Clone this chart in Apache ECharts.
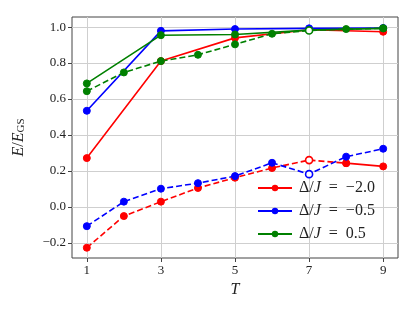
<!DOCTYPE html>
<html><head><meta charset="utf-8">
<script src="https://cdn.jsdelivr.net/npm/echarts@6/dist/echarts.min.js"></script>
<style>html,body{margin:0;padding:0;background:#fff}#c{width:415px;height:312px}</style>
</head><body><div id="c"></div>
<script>
const tOdd = [1, 3, 5, 7, 9];
const tAll = [1, 2, 3, 4, 5, 6, 7, 8, 9];
const tTail = [8, 9];
const xTicks = [1, 3, 5, 7, 9];
const yTicks = [-0.2, 0.0, 0.2, 0.4, 0.6, 0.8, 1.0];

const redSolid = [0.272, 0.811, 0.940, 0.985, 0.974];
const blueSolid = [0.535, 0.979, 0.989, 0.993, 0.995];
const greenSolid = [0.687, 0.955, 0.959, 0.983, 0.993];

const redDashed = [-0.226, -0.050, 0.030, 0.106, 0.163, 0.217, 0.261, 0.244];
const redTail = [0.244, 0.226];
const blueDashed = [-0.106, 0.030, 0.102, 0.133, 0.172, 0.246, 0.183, 0.280, 0.324];
const greenDashed = [0.644, 0.748, 0.811, 0.846, 0.904, 0.963, 0.981, 0.989, 0.993];

const labels = ['Δ/J = −2.0', 'Δ/J = −0.5', 'Δ/J = 0.5'];
const openT = 7;

const RED = '#ff0000', BLUE = '#0000ff', GREEN = '#008000';
const FONT = 'Liberation Serif';

function pts(xs, ys) {
  return ys.map((y, i) => {
    if (xs[i] === openT) {
      return { value: [xs[i], y], itemStyle: { color: '#ffffff', borderWidth: 1.6 } };
    }
    return [xs[i], y];
  });
}
function solid(name, color, xs, ys) {
  return { name, type: 'line', data: ys.map((y, i) => [xs[i], y]), color,
    symbol: 'circle', symbolSize: 7, lineStyle: { width: 1.6, color },
    itemStyle: { color, borderColor: color }, animation: false, z: 2 };
}
function dashed(name, color, xs, ys) {
  return { name, type: 'line', data: pts(xs, ys), color,
    symbol: 'circle', symbolSize: 7, lineStyle: { width: 1.6, color, type: [6, 3] },
    itemStyle: { color, borderColor: color }, animation: false, z: 2 };
}

const chart = echarts.init(document.getElementById('c'), null, { renderer: 'canvas' });
chart.setOption({
  animation: false,
  grid: { left: 72, right: 17, top: 17, bottom: 54, show: true, borderColor: '#444', borderWidth: 1, containLabel: false },
  legend: {
    data: labels, orient: 'vertical', left: 252, top: 175, itemWidth: 34, itemHeight: 8, itemGap: 7,
    formatter: n => {
      const num = n.split('= ')[1];
      return '{u|Δ/}{i|J}{u|  =  ' + num + '}';
    },
    textStyle: { fontFamily: FONT, fontSize: 16, color: '#222', padding: [0, 0, 0, 2],
      rich: { u: { fontFamily: FONT, fontSize: 16, color: '#222' },
              i: { fontFamily: FONT, fontSize: 16, fontStyle: 'italic', color: '#222' } } }
  },
  xAxis: {
    type: 'value', min: 0.6, max: 9.4,
    name: 'T', nameLocation: 'middle', nameGap: 21,
    nameTextStyle: { fontFamily: FONT, fontSize: 16, fontStyle: 'italic', color: '#222' },
    axisLine: { show: false, onZero: false },
    axisTick: { show: true, inside: false, length: 4, customValues: xTicks, lineStyle: { color: '#444' } },
    axisLabel: { customValues: xTicks, fontFamily: FONT, fontSize: 13, color: '#222', margin: 6 },
    splitLine: { show: true, lineStyle: { color: '#cfcfcf', width: 1 } }
  },
  yAxis: {
    type: 'value', min: -0.283, max: 1.056,
    name: '{i|E}/{i|E}{s|GS}', nameLocation: 'middle', nameGap: 45,
    nameTextStyle: { fontFamily: FONT, fontSize: 16, color: '#222',
      rich: { i: { fontFamily: FONT, fontSize: 16, fontStyle: 'italic', color: '#222' },
              s: { fontFamily: FONT, fontSize: 11, color: '#222', padding: [6, 0, 0, 0] } } },
    axisLine: { show: false, onZero: false },
    axisTick: { show: true, inside: false, length: 4, customValues: yTicks, lineStyle: { color: '#444' } },
    axisLabel: { customValues: yTicks, fontFamily: FONT, fontSize: 13, color: '#222', margin: 6,
      formatter: v => (v < -1e-9 ? '−' : '') + Math.abs(v).toFixed(1) },
    splitLine: { show: true, lineStyle: { color: '#cfcfcf', width: 1 } }
  },
  series: [
    solid(labels[0], RED, tOdd, redSolid),
    dashed('r-d', RED, tAll.slice(0, 8), redDashed),
    solid('r-t', RED, tTail, redTail),
    solid(labels[1], BLUE, tOdd, blueSolid),
    dashed('b-d', BLUE, tAll, blueDashed),
    solid(labels[2], GREEN, tOdd, greenSolid),
    dashed('g-d', GREEN, tAll, greenDashed)
  ]
});
</script></body></html>
